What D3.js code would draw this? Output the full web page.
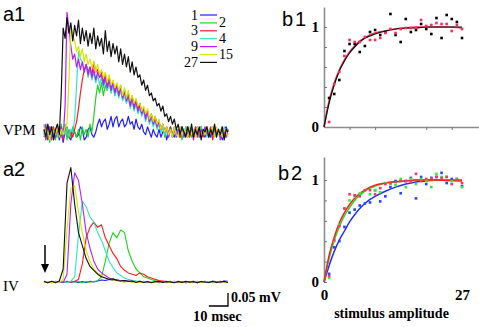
<!DOCTYPE html>
<html>
<head>
<meta charset="utf-8">
<script src="https://cdn.jsdelivr.net/npm/d3@7"></script>
<style>
  body { margin:0; background:#fff; }
  svg { display:block; }
  .serif { font-family:"Liberation Serif","Times New Roman",serif; }
  .sans { font-family:"Liberation Sans",Arial,sans-serif; }
</style>
</head>
<body>
<div id="chart"></div>
<script>
// ---- traces: sample times (msec) and responses (mV) per stimulus amplitude ----
const TIME_VPM = [0,1,2,3,4,5,6,7,8,9,10,11,12,13,14,15,16,17,18,19,20,21,22,23,24,25,26,27,28,29,
                  30,31,32,33,34,35,36,37,38,39,40,41,42,43,44,45,46,47,48,49,50,51,52,53,54,55,56,57,58,59,
                  60,61,62,63,64,65,66,67,68,69,70,71,72,73,74,75,76,77,78,79,80,81,82,83,84,85,86,87,88,89,
                  90,91,92,93,94,95,96];
const TIME_IV = [0,2,4,6,8,10,12,14,16,18,20,22,24,26,28,30,32,34,36,38,40,42,44,46,48,
                 50,52,54,56,58,60,62,64,66,68,70,72,74,76,78,80,82,84,86,88,90,92,94,96];
const STIM_LEVELS = ["1","2","3","4","9","15","27"];
const LEVEL_COLORS = ["#2020ff","#1fd41f","#ff1a1a","#33e3c6","#b41eff","#d9e400","#111111"];

// VPM (a1), 1 msec steps
const VPM_1 = [-.02,.01,-.03,.02,.01,-.01,-.02,.01,-.03,.00, -.04,.00,.01,-.02,-.03,.01,.00,-.02,-.01,.02,
  .01,-.03,-.02,.01,.02,-.01,-.02,.00,.03,.05, .02,.04,.05,.01,.03,.06,.02,.05,.06,.02,
  .04,.05,.02,.03,.06,.03,.04,.01,.05,.02, .01,.03,.00,-.01,.02,.00,-.02,.01,-.01,-.02,
  .01,-.02,.00,.01,-.03,.00,.02,-.01,-.02,.01, .00,-.02,.01,-.01,.02,-.02,.00,.01,-.02,.01,
  -.01,.01,.02,-.01,-.02,.01,.00,-.02,.02,.00, -.01,.01,.00,-.03,.01,.02,.00];
const VPM_2 = [.03,-.02,.01,-.04,.02,.00,-.03,.02,-.01,.03, -.01,.03,-.03,.01,-.02,.02,.00,-.02,.01,-.03,
  .02,-.01,.01,-.02,.03,.00,.06,.13,.18,.15, .19,.14,.18,.16,.20,.15,.19,.14,.17,.15,
  .18,.13,.16,.12,.15,.11,.14,.10,.12,.09, .11,.07,.09,.06,.08,.04,.06,.03,.05,.02,
  .04,.00,.02,-.02,.01,-.01,.02,-.02,.01,.00, -.01,.02,-.03,.01,-.01,.02,.00,-.02,.01,-.01,
  .02,-.02,.01,.00,-.01,.02,-.02,.01,-.01,.02, -.01,.01,-.02,.01,.00,-.02,.01];
const VPM_3 = [.01,-.03,.02,-.01,.01,.02,-.02,.00,.02,-.01, -.03,.01,.02,-.02,.00,-.02,.01,.04,.09,.15,
  .20,.24,.26,.23,.25,.22,.27,.23,.24,.21, .23,.19,.22,.18,.21,.17,.19,.16,.18,.15,
  .16,.13,.15,.12,.14,.11,.13,.10,.12,.09, .11,.08,.09,.06,.08,.05,.07,.04,.06,.03,
  .04,.01,.03,.00,.02,-.01,.02,-.02,.01,-.01, .01,-.02,.02,-.01,.01,.00,-.02,.01,-.01,.02,
  -.02,.01,.02,-.02,.01,-.01,.00,.02,-.03,.01, .01,-.01,.00,.02,-.02,.01,-.01];
const VPM_4 = [-.02,.01,-.01,.02,-.02,.00,.01,-.02,.02,-.01, .01,-.01,.02,-.02,.01,.00,.05,.18,.31,.28,
  .27,.23,.26,.21,.24,.20,.23,.19,.22,.18, .21,.17,.20,.16,.19,.15,.18,.14,.17,.13,
  .16,.12,.14,.11,.13,.09,.12,.08,.11,.07, .09,.06,.08,.04,.07,.03,.05,.02,.04,.01,
  .03,.00,.02,-.01,.01,-.02,.01,-.01,.02,-.02, .01,-.01,.01,-.02,.02,.00,-.01,.02,-.02,.01,
  .00,-.02,.02,-.01,.01,-.02,.01,.00,.02,-.01, -.02,.01,.00,-.01,.02,-.02,.01];
const VPM_9 = [-.01,.03,-.02,.02,-.03,.01,-.02,.03,-.01,.02, -.02,.10,.46,.40,.33,.28,.30,.25,.28,.24,
  .27,.23,.26,.22,.25,.21,.24,.20,.23,.21, .22,.18,.21,.17,.20,.16,.19,.15,.18,.14,
  .17,.13,.16,.12,.14,.10,.13,.09,.12,.08, .10,.07,.09,.05,.08,.04,.06,.03,.05,.02,
  .04,.01,.03,.00,.02,-.02,.01,-.01,.02,-.02, .01,-.01,.02,-.02,.00,.02,-.01,.01,-.03,.01,
  .02,-.02,.01,-.01,.02,.00,-.02,.01,-.01,.02, -.01,.01,-.03,.01,.00,-.02,.01];
const VPM_15 = [.02,-.02,.01,-.03,.02,.00,-.01,.02,-.02,.01, -.01,.02,.03,.20,.41,.37,.35,.31,.33,.29,
  .32,.27,.30,.26,.28,.25,.27,.23,.26,.22, .24,.21,.23,.19,.22,.18,.20,.17,.19,.16,
  .18,.14,.17,.13,.16,.12,.14,.11,.13,.10, .11,.08,.10,.07,.09,.05,.07,.04,.06,.03,
  .05,.01,.03,.00,.02,-.01,.01,-.02,.02,-.01, -.02,.02,-.01,.01,.00,-.02,.02,-.01,.01,-.02,
  .02,.00,-.02,.01,-.01,.02,-.01,.00,.02,-.02, .02,-.01,.01,-.02,.01,.00,-.02];
const VPM_27 = [.01,-.02,.03,-.01,.02,-.03,.01,.03,-.01,.15, .40,.36,.44,.38,.42,.35,.41,.37,.43,.34,
  .40,.35,.39,.33,.38,.34,.40,.32,.37,.33, .36,.30,.39,.31,.35,.29,.34,.30,.33,.27,
  .32,.26,.30,.25,.29,.23,.27,.22,.25,.21, .22,.18,.20,.16,.18,.14,.15,.12,.13,.10,
  .11,.08,.10,.06,.07,.04,.06,.03,.05,.01, .03,-.01,.02,.00,-.02,.02,-.01,.03,-.02,.01,
  -.01,.02,-.03,.01,.00,.02,-.02,.01,-.01,.03, -.02,.01,-.01,.02,-.03,.01,.00];

// layer IV (a2), 2 msec steps
const IV_1  = [.003,-.002,.002,-.003,.002, -.002,.003,-.001,.002,-.003, .002,-.002,.003,.000,.004, .008,.006,.010,.007,.009, .005,.006,.003,.004,.001, .003,-.002,.002,-.001,.003, -.002,.002,-.003,.002,.000, .003,-.002,.002,-.001,.002, -.003,.002,.001,-.002,.003, .002,-.001,.004,.003];
const IV_2  = [-.002,.002,-.003,.003,-.001, .002,-.002,.003,-.001,.002, -.003,.002,-.001,.002,.005, .02,.08,.15,.19,.17, .20,.19,.12,.08,.05, .035,.02,.015,.01,.005, .003,-.002,.003,-.001,.002, -.003,.002,.000,-.002,.003, .001,-.002,.002,-.003,.002, .000,-.002,.003,-.001];
const IV_3  = [.002,-.003,.001,-.002,.003, -.002,.002,-.001,.003,.01, .07,.17,.21,.23,.21, .22,.17,.14,.11,.09, .06,.045,.035,.03,.025, .035,.03,.02,.015,.01, .006,.004,.002,-.002,.003, -.002,.002,-.003,.001,.003, -.002,.000,.003,-.002,.002, -.001,.003,-.002,.001];
const IV_4  = [-.003,.002,-.002,.003,-.001, .002,-.002,.003,.02,.18, .31,.29,.25,.23,.19, .16,.12,.08,.055,.035, .025,.015,.01,.007,.004, .002,-.002,.003,-.001,.002, -.003,.002,.000,-.002,.003, -.001,.002,-.003,.001,.002, -.002,.003,-.001,.002,-.003, .002,-.001,.003,-.002];
const IV_9  = [.003,-.002,.002,-.003,.002, -.002,.03,.30,.42,.39, .30,.19,.13,.08,.05, .035,.025,.015,.01,.008, .005,.003,.005,.001,.003, -.002,.003,-.002,.002,.000, -.003,.002,-.001,.003,-.002, .002,.000,-.003,.002,-.001, .003,-.002,.001,-.002,.002, .000,-.003,.002,-.001];
const IV_15 = [-.002,.003,-.003,.002,-.001, .01,.20,.36,.37,.27, .19,.12,.08,.05,.035, .025,.015,.01,.008,.005, .003,-.002,.004,-.002,.002, -.003,.002,.000,.003,-.002, .002,-.003,.001,-.002,.003, .000,-.002,.002,-.003,.002, .001,-.002,.003,-.001,.002, -.003,.002,-.001,.002];
const IV_27 = [.002,-.003,.003,-.002,.004, .05,.38,.44,.30,.19, .14,.09,.06,.045,.03, .02,.015,.01,.012,.006, .004,.006,.002,.004,-.002, .003,-.002,.002,-.003,.001, .003,-.002,.002,.000,-.003, .002,-.002,.003,-.001,.002, -.003,.002,.000,-.002,.003, -.002,.001,.003,-.002];

// ---- normalized response vs stimulus amplitude ----
const STIM_X = [1,2,3,4,5,6,7,8,9,10,11,12,13,14,15,16,17,18,19,20,21,22,23,24,25,26,27];
const B1_BLACK = [.29,.33,.47,.76,.83,.83,.75,.81,.95,.97,.92,.95,1.13,.92,.85,1.08,.95,.97,1.03,.98,.93,1.09,.89,1.12,1.08,1.05,.89];
const B1_RED   = [.05,.43,.55,.71,.87,.85,.85,.90,.87,.87,.89,.94,.98,.94,.98,.99,.99,.99,1.07,1.01,1.02,1.04,1.03,1.03,.96,1.02,.98];
const B2_BLUE  = [.08,.34,.40,.54,.68,.71,.75,.77,.78,.90,.79,.84,.93,.99,.87,.99,1.02,.82,1.03,.96,1.02,1.03,1.07,.97,1.01,1.01,.94];
const B2_RED   = [.06,.41,.55,.72,.86,.85,.84,.90,.90,.86,.92,.96,.97,.98,.99,.99,.98,1.06,.99,1.01,1.02,1.03,1.02,1.03,.96,1.00,.97];
const B2_GREEN = [.04,.40,.56,.72,.80,.84,.87,.90,.86,.90,.88,.97,.96,.95,1.01,.93,1.01,.96,1.01,.99,.93,1.06,1.03,1.03,.99,1.01,.93];

const FIT_X        = [0,1,2,3,4,5,6,7,8,9,10,12,14,16,18,20,22,24,27];
const FIT_B1_BLACK = [0,.24,.42,.56,.66,.74,.80,.85,.89,.91,.93,.96,.98,.99,.99,1,1,1,1];
const FIT_B1_RED   = [0,.26,.44,.57,.67,.75,.81,.86,.89,.92,.94,.96,.98,.99,1,1,1,1,.99];
const FIT_B2_BLUE  = [0,.16,.30,.41,.50,.59,.66,.72,.77,.81,.84,.89,.93,.96,.98,.99,1,1,1];
const FIT_B2_RED   = [0,.26,.44,.58,.68,.76,.82,.87,.90,.93,.95,.97,.985,.99,1,1,1,.995,.99];
const FIT_B2_GREEN = [0,.23,.41,.54,.65,.73,.80,.85,.89,.92,.94,.97,.98,.99,1,1,1,1,1];

const vpmTraces = [VPM_1,VPM_2,VPM_3,VPM_4,VPM_9,VPM_15,VPM_27];
const ivTraces  = [IV_1,IV_2,IV_3,IV_4,IV_9,IV_15,IV_27];

const svg = d3.select("#chart").append("svg").attr("width",479).attr("height",327)
    .style("background","#fff");

// trace scales
const xT   = d3.scaleLinear().domain([0,96]).range([44,228]);
const yVPM = d3.scaleLinear().domain([0,0.45]).range([132,15]);
const yIV  = d3.scaleLinear().domain([0,0.45]).range([282,165]);

function drawTraces(traces, times, y, w) {
    const line = d3.line().x((d,i)=>xT(times[i])).y(d=>y(d));
    const g = svg.append("g");
    traces.forEach((tr,i) => {
        g.append("path").attr("d",line(tr)).attr("fill","none")
            .attr("stroke",LEVEL_COLORS[i]).attr("stroke-width",w).attr("stroke-linejoin","round");
    });
}
drawTraces(vpmTraces, TIME_VPM, yVPM, 1.2);
drawTraces(ivTraces, TIME_IV, yIV, 1.1);

// panel letters
[["a1",3,21],["a2",3,176],["b1",282,26],["b2",278,180]].forEach(([t,x,y]) => {
    svg.append("text").attr("class","sans").attr("x",x).attr("y",y)
        .style("font-size","20px").attr("letter-spacing", t[0]==="b" ? 2 : 0).text(t);
});
svg.append("text").attr("class","serif").attr("x",3).attr("y",135).style("font-size","15px").text("VPM");
svg.append("text").attr("class","serif").attr("x",3).attr("y",291).style("font-size","15px").text("IV");

// legend
STIM_LEVELS.forEach((lvl,i) => {
    const ly = 15 + i*7.9;
    svg.append("line").attr("x1",200).attr("x2",217).attr("y1",ly).attr("y2",ly)
        .attr("stroke",LEVEL_COLORS[i]).attr("stroke-width",1.2);
    const left = i%2===0;
    svg.append("text").attr("class","serif")
        .attr("x", left ? 198 : 219).attr("y", ly + 4.5)
        .attr("text-anchor", left ? "end" : "start").style("font-size","14px").text(lvl);
});

// stimulus arrow
svg.append("line").attr("x1",45).attr("x2",45).attr("y1",245).attr("y2",266)
    .attr("stroke","#000").attr("stroke-width",1.5);
svg.append("path").attr("d","M41,264 L49,264 L45,273 Z").attr("fill","#000");

// scale bar
const sbY = 306, sbX0 = xT(86), sbX1 = xT(96);
const sbH = yIV(0) - yIV(0.05);
svg.append("path").attr("d",`M${sbX0},${sbY} H${sbX1} V${sbY-sbH}`)
    .attr("fill","none").attr("stroke","#000").attr("stroke-width",1.3);
svg.append("text").attr("class","serif").attr("x",231).attr("y",302)
    .style("font-size","14px").style("font-weight","bold").text("0.05 mV");
svg.append("text").attr("class","serif").attr("x",193).attr("y",321)
    .style("font-size","14.5px").style("font-weight","bold").text("10 msec");

// ---- b panels ----
const xB  = d3.scaleLinear().domain([0,27]).range([324,462]);
const yB1 = d3.scaleLinear().domain([0,1]).range([127,27]);
const yB2 = d3.scaleLinear().domain([0,1]).range([282,180]);

function yAxis(yScale, top) {
    const full = yScale.copy().domain([0, yScale.invert(top)]).range([yScale(0), top]);
    const g = svg.append("g").attr("transform",`translate(${xB(0)},0)`)
        .call(d3.axisLeft(full).tickValues([0,0.2,0.4,0.6,0.8,1]).tickSizeInner(-3).tickSizeOuter(0)
            .tickPadding(5).tickFormat(d => (d===0||d===1) ? d3.format("d")(d) : ""));
    g.select(".domain").attr("stroke","#8c8c8c").attr("stroke-width",1.6);
    g.selectAll(".tick line").attr("stroke","#777");
    g.selectAll("text").attr("class","serif").style("font-size","15px").style("font-weight","bold").attr("fill","#000");
}
yAxis(yB1, 7);
yAxis(yB2, 157);

// b1 x axis runs to the right edge
const xFull = xB.copy().domain([0, xB.invert(479)]).range([324,479]);
const gx1 = svg.append("g").attr("transform",`translate(0,${yB1(0)})`)
    .call(d3.axisBottom(xFull).tickValues([5,10,20,25]).tickSizeInner(3).tickSizeOuter(0).tickFormat(""));
gx1.select(".domain").attr("stroke","#8c8c8c").attr("stroke-width",1.6);
gx1.selectAll(".tick line").attr("stroke","#777");

// b2 x labels only
const gx2 = svg.append("g").attr("transform",`translate(0,${yB2(0)})`)
    .call(d3.axisBottom(xB).tickValues([0,27]).tickSize(0).tickPadding(7).tickFormat(d3.format("d")));
gx2.select(".domain").remove();
gx2.selectAll("text").attr("class","serif").style("font-size","15px").style("font-weight","bold").attr("fill","#000");

svg.append("text").attr("class","serif").attr("x",391.5).attr("y",318).attr("text-anchor","middle")
    .style("font-size","14px").style("font-weight","bold").text("stimulus amplitude");

function fitLine(vals, y, color, w) {
    const line = d3.line().x((d,i)=>xB(FIT_X[i])).y(d=>y(d)).curve(d3.curveMonotoneX);
    svg.append("path").attr("d",line(vals)).attr("fill","none").attr("stroke",color).attr("stroke-width",w);
}
function dots(vals, y, color) {
    svg.append("g").selectAll("rect").data(vals).join("rect")
        .attr("x",(d,i)=>xB(STIM_X[i])-1.3).attr("y",d=>y(d)-1.3)
        .attr("width",2.6).attr("height",2.6).attr("fill",color);
}

fitLine(FIT_B1_RED, yB1, "#ff2a4a", 1.6);
fitLine(FIT_B1_BLACK, yB1, "#111", 1.2);
dots(B1_BLACK, yB1, "#000");
dots(B1_RED, yB1, "#ff2a5a");

fitLine(FIT_B2_BLUE, yB2, "#2030ff", 1.5);
fitLine(FIT_B2_GREEN, yB2, "#22dd22", 1.5);
fitLine(FIT_B2_RED, yB2, "#ff2020", 1.5);
dots(B2_BLUE, yB2, "#2244ff");
dots(B2_GREEN, yB2, "#33ee33");
dots(B2_RED, yB2, "#ff3366");
</script>
</body>
</html>
